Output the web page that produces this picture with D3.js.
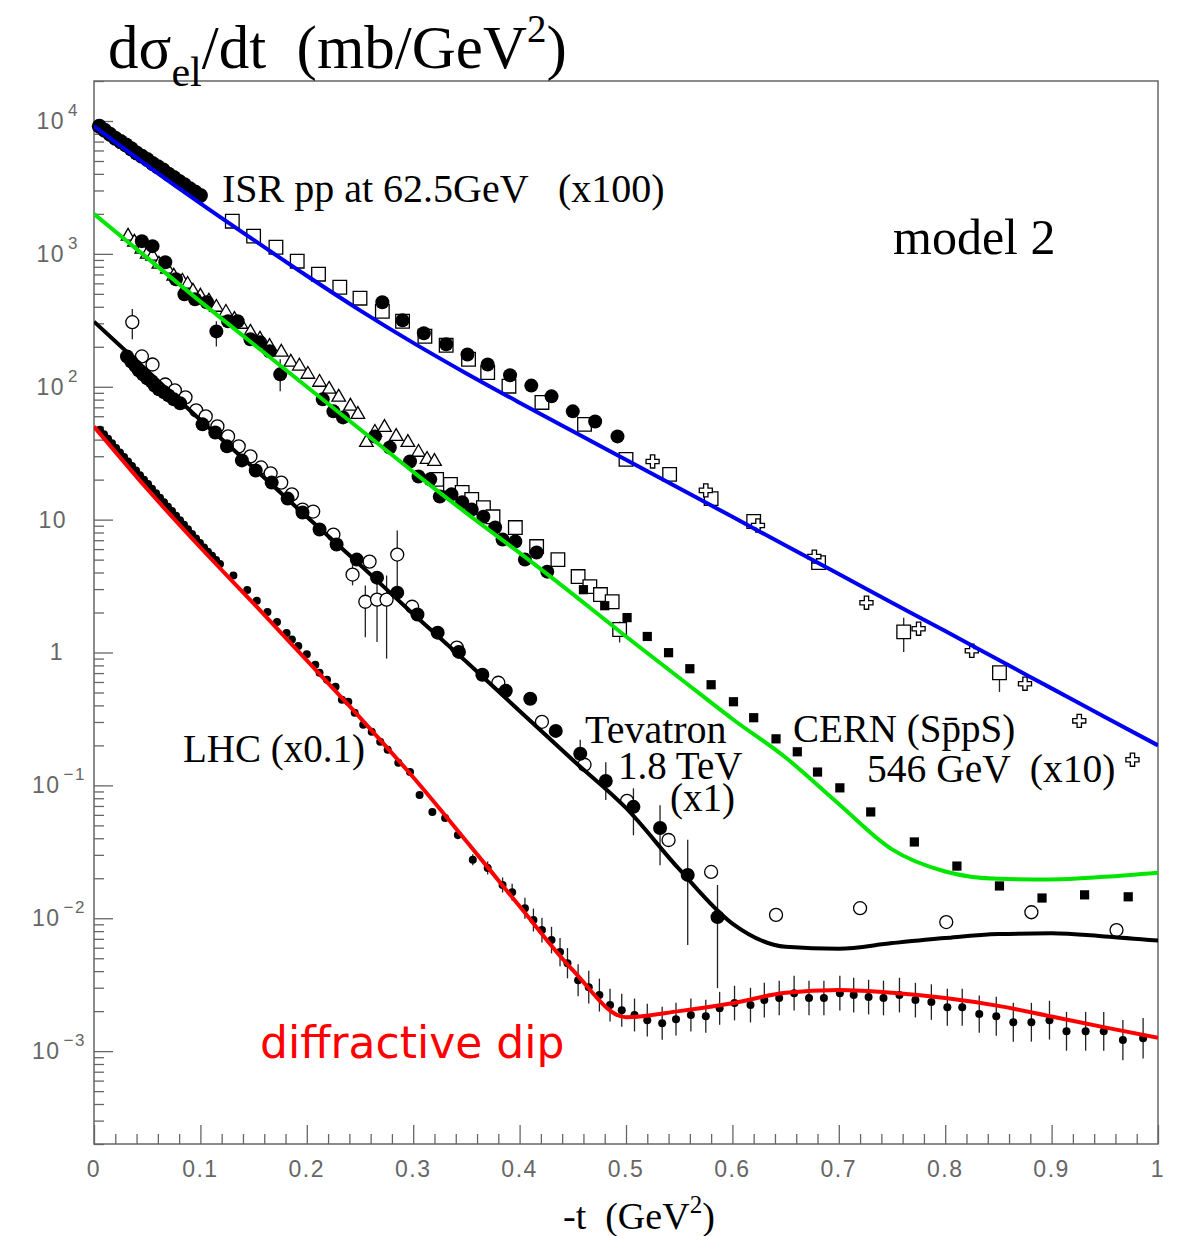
<!DOCTYPE html>
<html>
<head>
<meta charset="utf-8">
<script src="https://cdn.jsdelivr.net/npm/d3@7"></script>
<style>
  body { margin: 0; background: #fff; }
  text { white-space: pre; }
</style>
</head>
<body>
<svg id="chart"></svg>
<script>
// ---- model curves (same t grid for all four) ----
const modelT = [0, 0.05, 0.1, 0.15, 0.2, 0.25, 0.3, 0.35, 0.4, 0.45, 0.5,
                0.55, 0.6, 0.65, 0.7, 0.75, 0.8, 0.85, 0.9, 0.95, 1.0];
const modelISR  = [9120, 4624, 2399, 1274, 684, 376, 214, 126, 75.9, 46.2, 28.2,
                   17.2, 10.5, 6.38, 3.89, 2.37, 1.45, 0.881, 0.537, 0.327, 0.200];
const modelCERN = [1995, 933, 437, 209, 100, 47.9, 22.9, 11.2, 5.62, 2.75, 1.32,
                   0.646, 0.316, 0.162, 0.0724, 0.0330, 0.0225, 0.0198, 0.0196, 0.0205, 0.0220];
const modelTev  = [309, 132, 56.2, 24.5, 10.5, 4.57, 1.95, 0.851, 0.363, 0.155, 0.0676,
                   0.0234, 0.00912, 0.00610, 0.00590, 0.00650, 0.00710, 0.00760, 0.00770, 0.00730, 0.00680];
const modelLHC  = [50.1, 17.0, 6.17, 2.34, 0.871, 0.324, 0.115, 0.0380, 0.0123, 0.00407, 0.00180,
                   0.00200, 0.00229, 0.00275, 0.00288, 0.00275, 0.00251, 0.00219, 0.00182, 0.00151, 0.00126];

// ---- ISR pp 62.5 GeV (x100) ----
const isrLow = [[0.005,9120],[0.01,8510],[0.015,7940],[0.02,7410],[0.025,7000],[0.03,6610],
  [0.035,6170],[0.04,5750],[0.045,5430],[0.05,5130],[0.055,4790],[0.06,4520],[0.065,4270],
  [0.07,3980],[0.075,3760],[0.08,3510],[0.085,3310],[0.09,3090],[0.095,2920],[0.1,2750]];
const isrSquares = [[0.130,1762],[0.150,1360],[0.171,1122],[0.191,881],[0.211,703],[0.231,561],
  [0.250,464],[0.271,370],[0.290,311],[0.311,240],[0.331,205],[0.352,161],[0.370,128],[0.390,101],
  [0.421,76.2],[0.461,52.1],[0.500,28.4],[0.541,21.9],[0.580,14.4],[0.620,9.68],[0.681,4.75],
  [0.761,1.43],[0.851,0.704]];
const isrSquareErr = [[0.761,1.01,1.83],[0.851,0.505,0.780]];
const isrCircles = [[0.271,432],[0.290,316],[0.310,253],[0.331,209],[0.351,175],[0.370,147],
  [0.391,122],[0.411,102],[0.430,84.7],[0.450,65.3],[0.471,54.8],[0.492,42.3]];
const isrCrosses = [[0.525,27.4],[0.575,16.6],[0.624,9.03],[0.677,5.27],[0.726,2.37],
  [0.775,1.51],[0.825,1.03],[0.875,0.582],[0.926,0.306],[0.976,0.156]];

// ---- CERN SppS 546 GeV (x10) ----
const cernTriangles = [[0.032,1359],[0.038,1225],[0.045,1084],[0.050,995],[0.055,961],[0.061,836],
  [0.069,767],[0.075,679],[0.083,622],[0.088,590],[0.093,524],[0.100,480],[0.108,440],[0.115,396],
  [0.124,363],[0.132,321],[0.138,295],[0.147,257],[0.156,228],[0.165,201],[0.176,182],[0.185,153],
  [0.193,143],[0.201,124],[0.212,108],[0.221,95.7],[0.230,83.4],[0.241,71.3],[0.248,61.9],
  [0.256,38.1],[0.264,45.4],[0.273,49.4],[0.284,42.3],[0.295,38.1],[0.305,32.1],[0.313,28.4],[0.320,27.4]];
const cernCircles = [[0.045,1247],[0.055,1143],[0.067,865],[0.077,645],[0.085,497],[0.095,456],
  [0.106,432],[0.115,261],[0.126,311],[0.135,311],[0.147,228],[0.156,216],[0.165,185],[0.175,124],
  [0.215,80.4],[0.225,65.3],[0.234,58.8],[0.264,42.3],[0.278,34.9],[0.297,27.4],[0.305,21.1],
  [0.316,20.1],[0.325,14.9],[0.336,15.5],[0.346,13.5],[0.355,11.9],[0.366,10.5],[0.377,8.72],
  [0.384,7.08],[0.396,6.84],[0.405,5.00],[0.416,5.65],[0.426,4.06]];
const cernCircleErr = [[0.115,201,311],[0.175,92.3,161]];
const cernSquares = [[0.322,20.1],[0.335,18.4],[0.346,16.0],[0.355,14.2],[0.366,12.3],[0.375,10.5],
  [0.396,8.72],[0.416,6.27],[0.436,5.00],[0.455,3.73],[0.466,3.13],[0.476,2.73],[0.487,2.41],[0.494,1.49]];
const cernSquareErr = [[0.494,1.19,1.71]];
const cernFilledSq = [[0.460,2.97],[0.480,2.25],[0.501,1.83],[0.520,1.32],[0.540,0.997],[0.560,0.755],
  [0.580,0.572],[0.601,0.426],[0.620,0.323],[0.641,0.224],[0.661,0.179],[0.680,0.126],[0.701,0.0958],
  [0.730,0.0631],[0.771,0.0375],[0.811,0.0247],[0.851,0.0175],[0.891,0.0142],[0.931,0.0150],[0.972,0.0145]];

// ---- Tevatron 1.8 TeV (x1) ----
const tevOpen = [[0.036,306],[0.045,169],[0.055,147],[0.067,104],[0.076,93.9],[0.086,83.2],[0.096,66.4],
  [0.105,59.8],[0.116,50.3],[0.126,42.3],[0.136,35.6],[0.147,29.9],[0.157,24.7],[0.166,22.3],
  [0.176,19.0],[0.186,15.5],[0.196,11.9],[0.206,11.5],[0.225,7.72],[0.243,3.86],[0.259,4.83],
  [0.255,2.41],[0.266,2.50],[0.275,2.50],[0.285,5.46],[0.299,2.21],[0.341,1.09],[0.380,0.592],
  [0.421,0.301],[0.461,0.143],[0.501,0.0764],[0.540,0.0388],[0.580,0.0223],[0.641,0.0106],
  [0.720,0.0119],[0.801,0.00936],[0.881,0.0111],[0.961,0.00815]];
const tevOpenErr = [[0.036,228,384],[0.243,3.2,4.6],[0.255,1.3,3.2],[0.266,1.2,3.4],
  [0.275,0.9,3.8],[0.285,2.7,8.3]];
const tevFilled = [[0.031,169],[0.035,155],[0.039,143],[0.042,133],[0.046,124],[0.050,116],[0.054,110],
  [0.057,102],[0.061,95.6],[0.066,90.8],[0.070,86.1],[0.075,80.4],[0.081,75.0],[0.102,52.1],[0.114,45.3],
  [0.125,35.6],[0.139,27.9],[0.152,23.4],[0.167,19.0],[0.182,14.4],[0.196,11.3],[0.212,8.42],[0.228,6.49],
  [0.247,5.00],[0.266,3.66],[0.285,2.82],[0.304,1.93],[0.323,1.41],[0.343,1.01],[0.365,0.680],
  [0.387,0.515],[0.410,0.449],[0.434,0.257],[0.457,0.173],[0.481,0.108],[0.507,0.0689],[0.532,0.0478],
  [0.558,0.0212],[0.586,0.0102]];
const tevFilledErr = [[0.457,0.131,0.220],[0.481,0.0777,0.149],[0.507,0.0421,0.0951],
  [0.532,0.0251,0.0708],[0.558,0.00629,0.0389],[0.586,0.00298,0.0178]];

// ---- LHC (x0.1): [t, value, error factor] ----
const lhcPoints = [[0.0056,47.4],[0.0094,43.9],[0.0132,40.6],[0.0169,37.5],[0.0207,34.6],[0.0244,32.0],
  [0.0282,29.6],[0.032,27.4],[0.0357,25.3],[0.0395,23.4],[0.0432,21.6],[0.047,20.0],[0.0508,18.5],
  [0.0545,17.1],[0.0583,15.8],[0.062,14.6],[0.0658,13.5],[0.0695,12.5],[0.0733,11.6],[0.0771,10.7],
  [0.0808,9.89],[0.0846,9.14],[0.0883,8.45],[0.0921,7.80],[0.0959,7.21],[0.0996,6.67],[0.1034,6.17],
  [0.1071,5.74],[0.1109,5.35],[0.1147,4.97],[0.1184,4.63],
  [0.131,3.80],[0.144,2.95],[0.153,2.45],[0.163,2.02],[0.172,1.70],[0.181,1.40],[0.186,1.25],[0.192,1.12],
  [0.200,0.970],[0.208,0.809],[0.212,0.704],[0.219,0.624],[0.227,0.552],[0.233,0.441],[0.239,0.426],
  [0.245,0.352],[0.253,0.286],[0.261,0.253],[0.269,0.213],[0.276,0.185],[0.286,0.148],[0.297,0.126],
  [0.306,0.0848,1.05],[0.318,0.0631,1.05],[0.330,0.0569,1.06],[0.342,0.0424,1.08],[0.356,0.0275,1.1],
  [0.370,0.0239,1.12],[0.384,0.0178,1.14],[0.393,0.0157,1.16],[0.405,0.0119,1.2],[0.413,0.00969,1.22],
  [0.421,0.00815,1.24],[0.430,0.00685,1.26],[0.438,0.00556,1.28],[0.445,0.00459,1.3],[0.455,0.00342,1.32],
  [0.465,0.00303,1.33],[0.475,0.00264,1.33],[0.485,0.00222,1.33],[0.496,0.00203,1.33],[0.508,0.00187,1.33],
  [0.520,0.00171,1.33],[0.534,0.00162,1.33],[0.547,0.00174,1.33],[0.561,0.00187,1.33],[0.575,0.00183,1.33],
  [0.588,0.00210,1.33],[0.602,0.00230,1.35],[0.617,0.00222,1.35],[0.630,0.00242,1.35],[0.644,0.00251,1.35],
  [0.658,0.00273,1.35],[0.672,0.00251,1.35],[0.686,0.00251,1.35],[0.701,0.00273,1.35],[0.714,0.00264,1.35],
  [0.728,0.00255,1.35],[0.742,0.00251,1.35],[0.757,0.00264,1.35],[0.772,0.00242,1.35],[0.787,0.00234,1.36],
  [0.802,0.00214,1.38],[0.816,0.00214,1.38],[0.832,0.00190,1.38],[0.848,0.00183,1.4],[0.864,0.00165,1.4],
  [0.881,0.00165,1.4],[0.898,0.00171,1.4],[0.914,0.00141,1.4],[0.932,0.00141,1.4],[0.949,0.00141,1.4],
  [0.967,0.00121,1.42],[0.986,0.00125,1.42]];

// ---- axis labels ----
const xTickLabels = ["0","0.1","0.2","0.3","0.4","0.5","0.6","0.7","0.8","0.9","1"];
const yTickLabels = [[1e4,"10","4"],[1e3,"10","3"],[1e2,"10","2"],[10,"10",""],[1,"1",""],
  [0.1,"10","\u22121"],[0.01,"10","\u22122"],[0.001,"10","\u22123"]];

const W = 1181, H = 1236;
const padL = 94, padR = 1158, padT = 81, padB = 1144;

const svg = d3.select("#chart").attr("width", W).attr("height", H);
svg.append("rect").attr("width", W).attr("height", H).attr("fill", "#fff");

const x = d3.scaleLinear().domain([0, 1]).range([padL, padR]);
const y = d3.scaleLog().domain([2e-4, 2e4]).range([padB, padT]);

svg.append("defs").append("clipPath").attr("id", "plotClip")
  .append("rect").attr("x", padL).attr("y", padT)
  .attr("width", padR - padL).attr("height", padB - padT);

// ---- axes (ticks pointing into the frame) ----
const axisColor = "#666";
const yMajor = yTickLabels.map(d => d[0]);
const yMinor = [];
for (let k = -4; k <= 4; k++) {
  for (let m = 2; m <= 9; m++) {
    const v = m * Math.pow(10, k);
    if (v >= 2e-4 && v <= 2e4) yMinor.push(v);
  }
}
const xMajor = d3.range(0, 11).map(i => i / 10);
const xMinor = d3.range(0, 51).map(i => i / 50).filter((d, i) => i % 5 !== 0);

function styleAxis(g) {
  g.select(".domain").remove();
  g.selectAll("line").attr("stroke", axisColor).attr("stroke-width", 1.3);
}

svg.append("g").attr("transform", `translate(${padL},0)`)
  .call(d3.axisRight(y).tickValues(yMajor).tickSize(19).tickSizeOuter(0).tickFormat(""))
  .call(styleAxis);
svg.append("g").attr("transform", `translate(${padL},0)`)
  .call(d3.axisRight(y).tickValues(yMinor).tickSize(10).tickSizeOuter(0).tickFormat(""))
  .call(styleAxis);
svg.append("g").attr("transform", `translate(0,${padB})`)
  .call(d3.axisTop(x).tickValues(xMajor).tickSize(19).tickSizeOuter(0).tickFormat(""))
  .call(styleAxis);
svg.append("g").attr("transform", `translate(0,${padB})`)
  .call(d3.axisTop(x).tickValues(xMinor).tickSize(10).tickSizeOuter(0).tickFormat(""))
  .call(styleAxis);

svg.append("rect")
  .attr("x", padL).attr("y", padT)
  .attr("width", padR - padL).attr("height", padB - padT)
  .attr("fill", "none").attr("stroke", axisColor).attr("stroke-width", 1.5);

// tick labels
const tickFont = "'Liberation Sans', Arial, sans-serif";
svg.append("g").selectAll("text").data(xTickLabels).join("text")
  .attr("x", (d, i) => x(xMajor[i]))
  .attr("y", padB + 33)
  .attr("text-anchor", "middle")
  .attr("font-family", tickFont).attr("font-size", 23)
  .attr("letter-spacing", 1.5).attr("fill", "#666")
  .text(d => d);

const yl = svg.append("g").selectAll("text").data(yTickLabels).join("text")
  .attr("x", d => d[2] === "" ? (d[1] === "1" ? 64 : 67) : (d[2].length > 1 ? 86 : 79))
  .attr("y", d => y(d[0]) + 8)
  .attr("text-anchor", "end")
  .attr("font-family", tickFont).attr("font-size", 23)
  .attr("letter-spacing", 1.5).attr("fill", "#666");
yl.append("tspan").text(d => d[1]);
yl.append("tspan").attr("dy", -13).attr("font-size", 17).attr("dx", 3).text(d => d[2]);

// ---- data markers ----
const plot = svg.append("g");

function errorBars(rows) {
  plot.append("g").selectAll("line").data(rows).join("line")
    .attr("x1", d => x(d[0])).attr("x2", d => x(d[0]))
    .attr("y1", d => y(d[1])).attr("y2", d => y(d[2]))
    .attr("stroke", "#222").attr("stroke-width", 1.3);
}

function symbols(rows, type, size, filled) {
  plot.append("g").selectAll("path").data(rows).join("path")
    .attr("transform", d => `translate(${x(d[0])},${y(d[1])})`)
    .attr("d", d3.symbol().type(type).size(size))
    .attr("fill", filled ? "#000" : "#fff")
    .attr("stroke", "#000").attr("stroke-width", filled ? 0 : 1.3);
}

function circles(rows, r, filled) {
  plot.append("g").selectAll("circle").data(rows).join("circle")
    .attr("cx", d => x(d[0])).attr("cy", d => y(d[1])).attr("r", r)
    .attr("fill", filled ? "#000" : "#fff")
    .attr("stroke", "#000").attr("stroke-width", filled ? 0 : 1.3);
}

// error bars first
errorBars(isrSquareErr);
errorBars(cernCircleErr);
errorBars(cernSquareErr);
errorBars(tevOpenErr);
errorBars(tevFilledErr);
errorBars(lhcPoints.filter(d => d[2]).map(d => [d[0], d[1] / d[2], d[1] * d[2]]));

// ISR
circles(isrLow, 7.5, true);
symbols(isrSquares, d3.symbolSquare, 185, false);
symbols(isrCrosses, d3.symbolCross, 95, false);
circles(isrCircles, 7, true);

// CERN
symbols(cernTriangles, d3.symbolTriangle, 80, false);
symbols(cernSquares, d3.symbolSquare, 185, false);
circles(cernCircles, 7, true);
symbols(cernFilledSq, d3.symbolSquare, 85, true);

// Tevatron
circles(tevOpen, 6.5, false);
circles(tevFilled, 7, true);

// LHC
circles(lhcPoints, 4, true);

// ---- model curves ----
const curves = [
  [modelISR, "#0000f0"],
  [modelCERN, "#00e600"],
  [modelTev, "#000000"],
  [modelLHC, "#ff0000"]
];
const line = d3.line()
  .x(d => x(d[0])).y(d => y(d[1]))
  .curve(d3.curveMonotoneX);
svg.append("g").attr("clip-path", "url(#plotClip)")
  .selectAll("path").data(curves).join("path")
  .attr("d", d => line(modelT.map((t, i) => [t, d[0][i]])))
  .attr("fill", "none").attr("stroke", d => d[1])
  .attr("stroke-width", 4).attr("stroke-linejoin", "round");

// ---- titles and annotations ----
const serif = "'Liberation Serif', 'Times New Roman', serif";
const title = svg.append("text").attr("x", 108).attr("y", 68)
  .attr("font-family", serif).attr("font-size", 61).attr("fill", "#000");
title.append("tspan").text("d\u03c3");
title.append("tspan").attr("font-size", 42).attr("dy", 18).text("el");
title.append("tspan").attr("dy", -18).text("/dt  (mb/GeV");
title.append("tspan").attr("font-size", 39).attr("dy", -26).text("2");
title.append("tspan").attr("dy", 26).text(")");

const xl = svg.append("text").attr("x", 563).attr("y", 1229)
  .attr("font-family", serif).attr("font-size", 38).attr("fill", "#000");
xl.append("tspan").text("-t  (GeV");
xl.append("tspan").attr("font-size", 25).attr("dy", -16).text("2");
xl.append("tspan").attr("dy", 16).text(")");

const notes = [
  ["ISR pp at 62.5GeV   (x100)", 222, 202, 40],
  ["model 2", 893, 254, 50],
  ["LHC (x0.1)", 183, 762, 39],
  ["Tevatron", 585, 743, 40],
  ["1.8 TeV", 618, 779, 39],
  ["(x1)", 670, 811, 39],
  ["CERN (Sp\u0304pS)", 793, 742, 39],
  ["546 GeV  (x10)", 867, 782, 39.5]
];
svg.append("g").selectAll("text").data(notes).join("text")
  .attr("x", d => d[1]).attr("y", d => d[2])
  .attr("font-family", serif).attr("font-size", d => d[3]).attr("fill", "#000")
  .text(d => d[0]);

svg.append("text").attr("x", 260).attr("y", 1058)
  .attr("font-family", "'DejaVu Sans', sans-serif").attr("font-size", 44)
  .attr("fill", "#ff0000")
  .text("diffractive dip");
</script>
</body>
</html>
